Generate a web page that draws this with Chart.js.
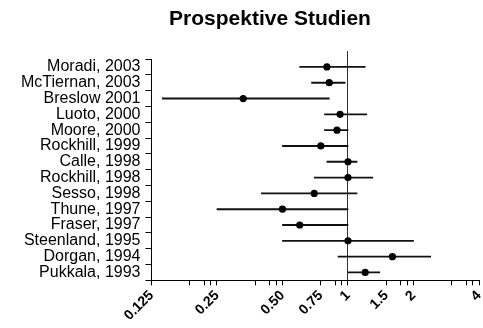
<!DOCTYPE html>
<html>
<head>
<meta charset="utf-8">
<script src="https://cdn.jsdelivr.net/npm/chart.js@4/dist/chart.umd.min.js"></script>
<style>
  html, body { margin: 0; padding: 0; background: #fff; }
</style>
</head>
<body>
<canvas id="forest" width="483" height="328"></canvas>
<script>
// studies, top to bottom
const studies = [
  "Moradi, 2003", "McTiernan, 2003", "Breslow 2001", "Luoto, 2000", "Moore, 2000",
  "Rockhill, 1999", "Calle, 1998", "Rockhill, 1998", "Sesso, 1998", "Thune, 1997",
  "Fraser, 1997", "Steenland, 1995", "Dorgan, 1994", "Pukkala, 1993"
];
// relative risk with 95% interval
const estimate = [0.80, 0.82, 0.33, 0.92, 0.89, 0.75, 1.00, 1.00, 0.70, 0.50, 0.60, 1.00, 1.60, 1.20];
const ciLow    = [0.60, 0.68, 0.14, 0.78, 0.78, 0.50, 0.80, 0.70, 0.40, 0.25, 0.50, 0.50, 0.90, 1.00];
const ciHigh   = [1.20, 0.97, 0.82, 1.22, 1.00, 1.00, 1.10, 1.30, 1.10, 1.00, 1.00, 2.00, 2.40, 1.40];

// x axis ticks (log2 scale), only some get a label
const labelTicks = [0.125, 0.25, 0.5, 0.75, 1, 1.5, 2, 4];
const labelText  = ["0.125", "0.25", "0.50", "0.75", "1", "1.5", "2", "4"];
const minorTicks = [0.1875, 0.21875, 0.234375, 0.375, 0.4375, 0.46875, 0.875, 0.9375, 1.75, 1.875, 3, 3.5, 3.75];

const titleText = "Prospektive Studien";
const FONT = '"Liberation Sans", Arial, sans-serif';

const allTicks = labelTicks.concat(minorTicks).sort((a, b) => a - b);

// no-effect line at 1, runs a bit above the plot
const refLine = {
  id: "refLine",
  beforeDatasetsDraw(chart) {
    const { ctx, chartArea, scales } = chart;
    const px = Math.round(scales.x.getPixelForValue(1)) - 0.5;
    ctx.save();
    ctx.strokeStyle = "#333";
    ctx.lineWidth = 1;
    ctx.beginPath();
    ctx.moveTo(px, chartArea.top - 8);
    ctx.lineTo(px, chartArea.bottom);
    ctx.stroke();
    ctx.restore();
  }
};

const heading = {
  id: "heading",
  afterDraw(chart) {
    const ctx = chart.ctx;
    ctx.save();
    ctx.font = "bold 21px " + FONT;
    ctx.fillStyle = "#000";
    ctx.textAlign = "center";
    ctx.textBaseline = "alphabetic";
    ctx.fillText(titleText, 270, 25);
    ctx.restore();
  }
};

new Chart(document.getElementById("forest"), {
  type: "bar",
  data: {
    labels: studies,
    datasets: [
      {
        // confidence intervals as floating bars
        data: studies.map((s, i) => [ciLow[i], ciHigh[i]]),
        backgroundColor: "#111",
        barThickness: 1.2,
        order: 1
      },
      {
        type: "line",
        data: estimate,
        showLine: false,
        pointRadius: 3.6,
        pointBorderWidth: 0,
        pointBackgroundColor: "#000",
        order: 0
      }
    ]
  },
  options: {
    indexAxis: "y",
    responsive: false,
    animation: false,
    layout: { padding: { top: 59, left: 16, right: 0, bottom: 2 } },
    plugins: {
      legend: { display: false },
      tooltip: { enabled: false },
      title: { display: false }
    },
    scales: {
      x: {
        type: "logarithmic",
        min: 0.125,
        max: 4,
        afterBuildTicks: (scale) => {
          scale.ticks = allTicks.map(v => ({ value: v }));
        },
        afterFit: (scale) => { scale.paddingRight = 0; },
        grid: { drawOnChartArea: false, tickLength: 5, color: "#000" },
        border: { color: "#000" },
        ticks: {
          autoSkip: false,
          minRotation: 45,
          maxRotation: 45,
          padding: 2,
          color: "#000",
          font: { family: FONT, size: 14, weight: "bold" },
          callback: (v) => {
            const i = labelTicks.indexOf(v);
            return i < 0 ? "" : labelText[i];
          }
        }
      },
      y: {
        afterFit: (scale) => { scale.paddingTop = 0; scale.paddingBottom = 0; },
        grid: { drawOnChartArea: false, tickLength: 6, color: "#000" },
        border: { color: "#000" },
        ticks: {
          autoSkip: false,
          padding: 5,
          color: "#000",
          font: { family: FONT, size: 16, lineHeight: 1 }
        }
      }
    }
  },
  plugins: [refLine, heading]
});
</script>
</body>
</html>
